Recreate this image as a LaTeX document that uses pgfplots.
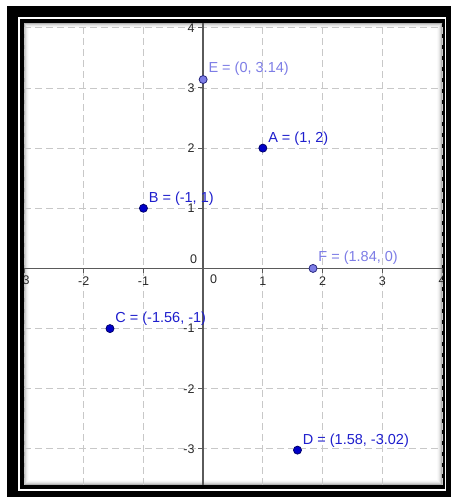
\documentclass[border=0pt]{standalone}
\usepackage{fontspec}
\setmainfont{Liberation Sans}
\usepackage{pgfplots}
\pgfplotsset{compat=1.18}
\usepackage{pgfplotstable}
\definecolor{ptdark}{RGB}{0,0,200}
\definecolor{ptdarkline}{RGB}{0,0,110}
\definecolor{lbldark}{RGB}{30,30,205}
\definecolor{ptlight}{RGB}{125,125,230}
\definecolor{ptlightline}{RGB}{40,40,130}
\definecolor{lbllight}{RGB}{125,125,230}
\definecolor{axisgray}{RGB}{90,90,90}
\definecolor{gridgray}{RGB}{200,200,200}
\definecolor{ticktext}{RGB}{40,40,40}
\pgfplotstableread[col sep=semicolon]{
x;y;label
1;2;A = (1, 2)
-1;1;B = (-1, 1)
-1.56;-1;C = (-1.56, -1)
1.58;-3.02;D = (1.58, -3.02)
}\darkpts
\pgfplotstableread[col sep=semicolon]{
x;y;label
0;3.14;E = (0, 3.14)
1.84;0;F = (1.84, 0)
}\lightpts
\begin{document}
\begin{tikzpicture}[x=1pt,y=1pt]
\fill[white] (0,0) rectangle (451,502);
\fill[black] (7,5) rectangle (451,496);
\fill[white] (18,11) rectangle (446,485);
\fill[black] (20,13) rectangle (445,483);
\fill[white] (24,17) rectangle (442,479);
\foreach \i/\o in {0.5/0.30,1.5/0.18,2.5/0.10,3.5/0.05,4.5/0.02}
  \draw[black,opacity=\o,line width=1pt] ({24+\i},{17+\i}) rectangle ({442-\i},{479-\i});
\begin{axis}[
  at={(24pt,17pt)}, anchor=south west,
  scale only axis, width=418pt, height=462pt,
  xmin=-3, xmax=4, ymin=-3.6, ymax=4.08,
  axis lines=middle,
  axis line style={color=axisgray, line width=1.3pt, -},
  xtick={-3,...,4}, ytick={-3,...,4},
  xticklabels={,-2,-1,,1,2,3,},
  yticklabels={-3,-2,-1,,1,2,3,4},
  hide obscured x ticks=false, hide obscured y ticks=false,
  tick label style={font=\fontsize{12.5}{13}\selectfont, text=ticktext},
  tick align=outside, major tick length=5pt,
  tick style={color=axisgray, line width=1pt},
  grid=major,
  major grid style={color=gridgray, dash pattern=on 7pt off 4pt, line width=0.9pt},
  clip=false,
]
\addplot[only marks, mark=*, mark size=4pt,
  mark options={fill=ptdark, draw=ptdarkline, line width=0.8pt},
  nodes near coords, point meta=explicit symbolic,
  nodes near coords style={anchor=base west, inner sep=0pt, xshift=5pt, yshift=6pt,
    text=lbldark, font=\fontsize{14.5}{16}\selectfont}]
  table[x=x, y=y, meta=label] {\darkpts};
\addplot[only marks, mark=*, mark size=4pt,
  mark options={fill=ptlight, draw=ptlightline, line width=0.8pt},
  nodes near coords, point meta=explicit symbolic,
  nodes near coords style={anchor=base west, inner sep=0pt, xshift=5pt, yshift=7pt,
    text=lbllight, font=\fontsize{14.5}{16}\selectfont}]
  table[x=x, y=y, meta=label] {\lightpts};
\node[text=ticktext, font=\fontsize{12.5}{13}\selectfont] at (axis cs:0,0) [xshift=10.5pt, yshift=-11pt] {0};
\node[text=ticktext, font=\fontsize{12.5}{13}\selectfont] at (axis cs:0,0) [xshift=-9.5pt, yshift=9pt] {0};
\end{axis}
\begin{scope}
\clip (24,17) rectangle (442,479);
\node[text=ticktext, font=\fontsize{12.5}{13}\selectfont] at (24,222) {-3};
\node[text=ticktext, font=\fontsize{12.5}{13}\selectfont] at (442,222) {4};
\end{scope}
\end{tikzpicture}
\end{document}
